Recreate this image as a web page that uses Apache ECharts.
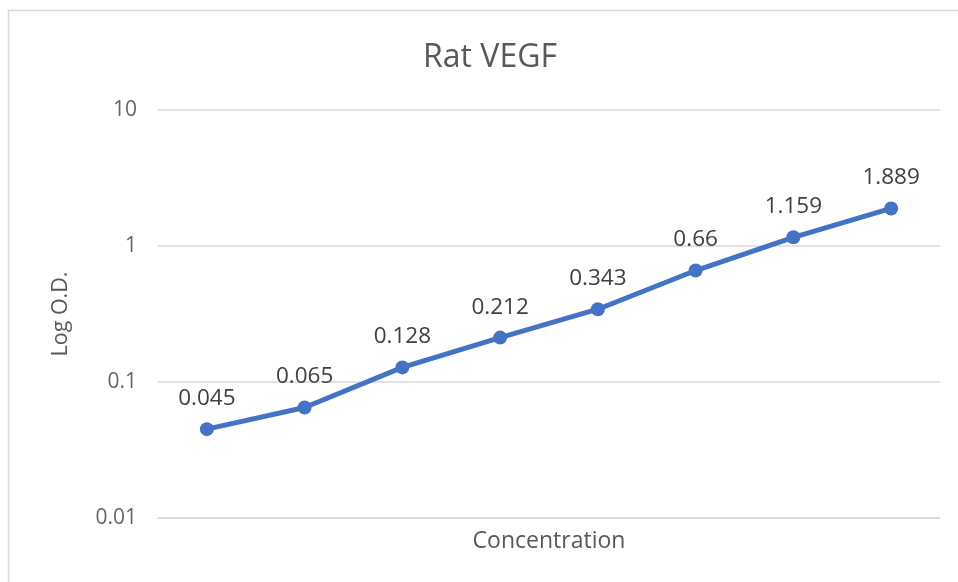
<!DOCTYPE html>
<html><head><meta charset="utf-8">
<script src="https://cdn.jsdelivr.net/npm/echarts@6/dist/echarts.min.js"></script>
<style>html,body{margin:0;padding:0;background:#fff}#c{width:958px;height:582px}</style>
</head><body><div id="c"></div>
<script>
const categories = ['1','2','3','4','5','6','7','8'];
const odValues = [0.045, 0.065, 0.128, 0.212, 0.343, 0.66, 1.159, 1.889];
const yTicks = [0.01, 0.1, 1, 10];

const chart = echarts.init(document.getElementById('c'));
chart.setOption({
  animation: false,
  backgroundColor: '#fff',
  title: {
    text: 'Rat VEGF', left: 485, top: 37, textAlign: 'center',
    textStyle: { fontFamily: 'Open Sans', fontSize: 32, fontWeight: 'normal', color: '#595959' }
  },
  graphic: [{
    type: 'rect', shape: { x: 8.5, y: 10.5, width: 1000, height: 700 },
    style: { fill: 'none', stroke: '#d9d9d9', lineWidth: 1.5 }, silent: true
  }],
  grid: { left: 158, right: 18, top: 110, bottom: 64 },
  xAxis: {
    type: 'category', data: categories, boundaryGap: true,
    axisLine: { show: true, lineStyle: { color: '#d9d9d9', width: 1.5 } },
    axisTick: { show: false }, axisLabel: { show: false },
    name: 'Concentration', nameLocation: 'middle', nameGap: 12,
    nameTextStyle: { fontFamily: 'Open Sans', fontSize: 23, color: '#595959' }
  },
  yAxis: {
    type: 'log', logBase: 10, min: 0.01, max: 10,
    axisLine: { show: false }, axisTick: { show: false },
    axisLabel: {
      margin: 21, fontFamily: 'Open Sans', fontSize: 21, color: '#666666',
      formatter: v => { const r = yTicks.find(t => Math.abs(t - v) / t < 1e-6); return r !== undefined ? String(r) : ''; }
    },
    splitLine: { show: true, lineStyle: { color: '#d9d9d9', width: 1.5 } },
    name: 'Log O.D.', nameLocation: 'middle', nameGap: 86,
    nameTextStyle: { fontFamily: 'Open Sans', fontSize: 21.5, color: '#595959' }
  },
  series: [{
    type: 'line', data: odValues,
    lineStyle: { color: '#4472C4', width: 5 },
    itemStyle: { color: '#4472C4' },
    symbol: 'circle', symbolSize: 14,
    label: {
      show: true, position: 'top', distance: 12,
      fontFamily: 'Open Sans', fontSize: 22.5, color: '#404040',
      formatter: p => String(p.value)
    }
  }]
});
</script></body></html>
